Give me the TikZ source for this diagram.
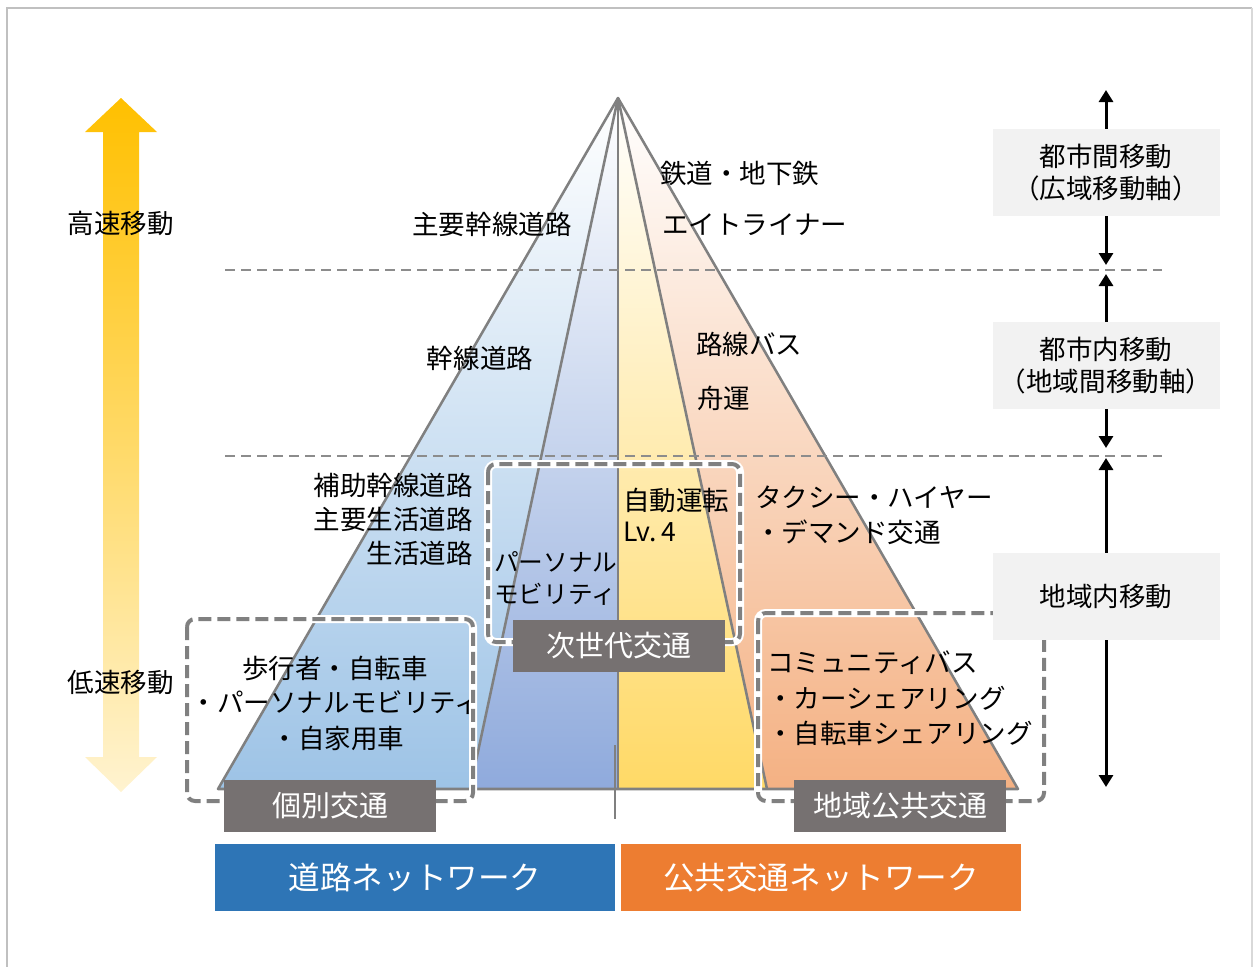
\documentclass[tikz,border=0pt]{standalone}
\usepackage{fontspec}
\newfontfamily\jp{Noto Sans CJK JP}
\usetikzlibrary{arrows.meta}
\definecolor{lineg}{RGB}{128,128,128}
\definecolor{dashg}{RGB}{140,140,140}
\definecolor{boxg}{RGB}{118,113,113}
\definecolor{rboxg}{RGB}{242,242,242}
\definecolor{frameg}{RGB}{192,192,192}
\definecolor{blueA}{RGB}{157,195,230}
\definecolor{blueB}{RGB}{143,170,220}
\definecolor{yelB}{RGB}{255,217,102}
\definecolor{orA}{RGB}{244,177,131}
\definecolor{roadblue}{RGB}{46,117,182}
\definecolor{puborange}{RGB}{237,125,49}
\definecolor{arrtop}{RGB}{255,192,0}
\definecolor{arrbot}{RGB}{255,243,208}
\begin{document}
\begin{tikzpicture}[x=0.75pt,y=-0.75pt,
  txt/.style={font=\jp\fontsize{19.9pt}{25.5pt}\selectfont, inner sep=0pt},
  lbl/.style={fill=boxg, text=white, minimum width=159pt, minimum height=39pt, inner sep=0pt, font=\jp\fontsize{21.75pt}{26pt}\selectfont},
  bar/.style={minimum width=300pt, minimum height=50.25pt, inner sep=0pt, text=white, font=\jp\fontsize{23.7pt}{28pt}\selectfont},
  rbox/.style={fill=rboxg, minimum width=170.25pt, minimum height=65.25pt, inner sep=0pt, align=center, font=\jp\fontsize{19.9pt}{24pt}\selectfont},
  pyr/.style={draw=lineg, line width=1.9pt},
  hdash/.style={dashg, line width=1.5pt, dash pattern=on 7.5pt off 4.5pt},
  halo/.style={white, line width=6pt, rounded corners=6pt},
  dbox/.style={lineg, line width=3pt, rounded corners=6pt, dash pattern=on 9.75pt off 4.5pt},
  arr/.style={-{Triangle[width=10.5pt,length=9pt]}, line width=2.25pt, black}]
\useasboundingbox (0,0) rectangle (1254,967);
% frame
\draw[frameg, line width=1.5pt] (7,980) -- (7,8) -- (1252,8);
\draw[frameg!60, line width=1.5pt] (1252,8) -- (1252,980);

% pyramid coordinates
\coordinate (apex) at (618,98);
\coordinate (bl) at (218,789);
\coordinate (bil) at (470,789);
\coordinate (bc) at (618,789);
\coordinate (bir) at (767,789);
\coordinate (br) at (1018,789);

% fills
\shade[top color=white, bottom color=blueA] (apex) -- (bl) -- (bil) -- cycle;
\shade[top color=white, bottom color=blueB] (apex) -- (bil) -- (bc) -- cycle;
\shade[top color=white, bottom color=yelB] (apex) -- (bc) -- (bir) -- cycle;
\shade[top color=white, bottom color=orA] (apex) -- (bir) -- (br) -- cycle;

% pyramid lines
\draw[pyr, line join=round] (bl) -- (apex) -- (br) -- cycle;
\draw[pyr] (apex) -- (bil);
\draw[pyr] (apex) -- (bc);
\draw[pyr] (apex) -- (bir);
\draw[lineg, line width=0.9pt] (615,745) -- (615,819);

% horizontal dashed lines
\draw[hdash] (225,270) -- (1162,270);
\draw[hdash] (225,456) -- (1162,456);

% left big arrow
\shade[top color=arrtop, bottom color=arrbot]
  (121,98) -- (157,132) -- (139,132) -- (139,757) -- (157,757) -- (121,792)
  -- (85,757) -- (103,757) -- (103,132) -- (85,132) -- cycle;
\node[txt] (fast) at (121,223) {高速移動};
\node[txt] (slow) at (121,682) {低速移動};

% pyramid texts
\node[txt] (t1) at (492,224) {主要幹線道路};
\node[txt] (t2) at (480,358) {幹線道路};
\node[txt, anchor=east] (t3) at (473,485) {補助幹線道路};
\node[txt, anchor=east] (t4) at (473,519) {主要生活道路};
\node[txt, anchor=east] (t5) at (473,553) {生活道路};
\node[txt, anchor=west] (t6) at (660,173) {鉄道・地下鉄};
\node[txt, anchor=west] (t7) at (662,225) {エイトライナー};
\node[txt, anchor=west] (t8) at (696,344) {路線バス};
\node[txt, anchor=west] (t9) at (697,398) {舟運};
\node[txt, anchor=west] (t10) at (623,500) {自動運転};
\node[txt, anchor=west] (t11) at (623,532) {Lv.\,4};
\node[txt, anchor=west, font=\jp\fontsize{18.5pt}{24pt}\selectfont] (t12) at (494,562) {パーソナル};
\node[txt, anchor=west, font=\jp\fontsize{18.5pt}{24pt}\selectfont] (t13) at (494,594) {モビリティ};
\node[txt, anchor=west] (t14) at (755,497) {タクシー・ハイヤー};
\node[txt, anchor=west] (t15) at (755,532) {・デマンド交通};
\node[txt] (t16) at (335,668) {歩行者・自転車};
\node[txt] (t17) at (336,703) {・パーソナルモビリティ};
\node[txt] (t18) at (338,738) {・自家用車};
\node[txt, anchor=west] (t19) at (767,663) {コミュニティバス};
\node[txt, anchor=west] (t20) at (767,698) {・カーシェアリング};
\node[txt, anchor=west] (t21) at (767,733) {・自転車シェアリング};

% dashed group boxes
\draw[halo] (187,619) rectangle (473,801);
\draw[dbox] (187,619) rectangle (473,801);
\draw[halo] (488,464) rectangle (740,642);
\draw[dbox] (488,464) rectangle (740,642);
\draw[halo] (758,613) rectangle (1044,801);
\draw[dbox] (758,613) rectangle (1044,801);

% gray labels
\node[lbl] (kobetsu) at (330,806) {個別交通};
\node[lbl] (jisedai) at (619,646) {次世代交通};
\node[lbl] (chiiki) at (900,806) {地域公共交通};

% bottom bars
\node[bar, fill=roadblue] (road) at (415,877.5) {道路ネットワーク};
\node[bar, fill=puborange] (pub) at (821,877.5) {公共交通ネットワーク};

% right side boxes
\node[rbox] (r1) at (1106,172.5) {都市間移動\\（広域移動軸）};
\node[rbox] (r2) at (1106,365.5) {都市内移動\\（地域間移動軸）};
\node[rbox] (r3) at (1106,596.5) {地域内移動};
\coordinate (a1) at (1106,90);
\coordinate (a2) at (1106,265);
\coordinate (a3) at (1106,274);
\coordinate (a4) at (1106,448);
\coordinate (a5) at (1106,458);
\coordinate (a6) at (1106,787);
\draw[arr] (r1.north) -- (a1);
\draw[arr] (r1.south) -- (a2);
\draw[arr] (r2.north) -- (a3);
\draw[arr] (r2.south) -- (a4);
\draw[arr] (r3.north) -- (a5);
\draw[arr] (r3.south) -- (a6);
\end{tikzpicture}
\end{document}
